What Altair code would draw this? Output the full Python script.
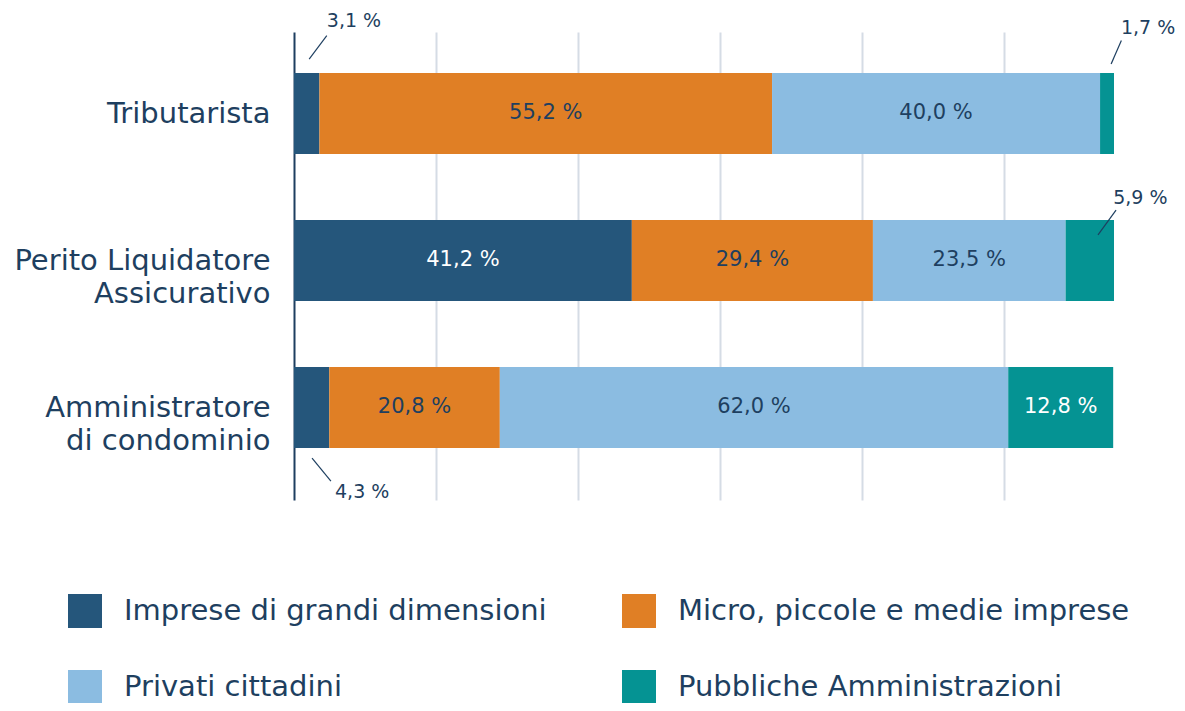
import altair as alt
import pandas as pd

categories = ["Tributarista", "Perito Liquidatore|Assicurativo", "Amministratore|di condominio"]
series = ["Imprese di grandi dimensioni", "Micro, piccole e medie imprese",
          "Privati cittadini", "Pubbliche Amministrazioni"]
grandi = [3.1, 41.2, 4.3]
micro = [55.2, 29.4, 20.8]
privati = [40.0, 23.5, 62.0]
pubbliche = [1.7, 5.9, 12.8]
grid_values = [17.32, 34.63, 51.95, 69.27, 86.59]

colors = ["#25567B", "#E07F25", "#8BBCE1", "#059393"]
navy = "#1E3F60"
FONT = "DejaVu Sans"

BAR_H = 0.551          # bar thickness in category units
Y_DOMAIN = [-0.554, 2.630]

# outside-label annotation offsets: x in percent relative to segment middle,
# b = vertical position in bar-thickness units from the bar's top edge
outside = {
    (0, 0): dict(x1=0.3, b1=-0.17, x2=2.45, b2=-0.46, tx=2.45, tb=-0.64),
    (0, 3): dict(x1=0.5, b1=-0.11, x2=1.75, b2=-0.40, tx=1.7, tb=-0.56),
    (1, 3): dict(x1=1.0, b1=0.185, x2=3.2, b2=-0.12, tx=2.85, tb=-0.27),
    (2, 0): dict(x1=0.05, b1=1.125, x2=2.35, b2=1.41, tx=2.85, tb=1.55),
}

vals = [grandi, micro, privati, pubbliche]
rows = []
for i, cat in enumerate(categories):
    start = 0.0
    for j, s in enumerate(series):
        v = vals[j][i]
        rows.append(dict(cat=cat, idx=i, series=s, v=v, x0=start, x1=start + v,
                         mid=start + v / 2, order=j,
                         ytop=i - BAR_H / 2, ybot=i + BAR_H / 2,
                         label=f"{v:.1f}".replace(".", ",") + " %",
                         ci=i, si=j))
        start += v
df = pd.DataFrame(rows)

cat_arr = "[" + ",".join("'" + c + "'" for c in categories) + "]"
yscale = alt.Scale(domain=Y_DOMAIN, reverse=True, nice=False, zero=False)

bars = alt.Chart(df).mark_bar().encode(
    x=alt.X("x0:Q", scale=alt.Scale(domain=[0, 100], nice=False, zero=True),
            axis=alt.Axis(values=grid_values, grid=True, gridColor="#D5DCE5", gridWidth=2,
                          domain=False, ticks=False, labels=False, title=None)),
    x2="x1:Q",
    y=alt.Y("ytop:Q", scale=yscale,
            axis=alt.Axis(title=None, ticks=False, domain=True, domainColor=navy, domainWidth=2,
                          values=[0, 1, 2], labelFontSize=29, labelColor=navy, labelFont=FONT,
                          labelPadding=24, labelBaseline="middle", labelAlign="right",
                          labelExpr="split(" + cat_arr + "[datum.value], '|')",
                          labelLineHeight=33, labelLimit=400, grid=False)),
    y2="ybot:Q",
    color=alt.Color("series:N", sort=series,
                    scale=alt.Scale(domain=series, range=colors),
                    legend=alt.Legend(title=None, orient="none", legendX=-226, legendY=562,
                                      direction="horizontal",
                                      columns=2, columnPadding=75, rowPadding=42,
                                      symbolType="square", symbolSize=1156, symbolStrokeWidth=0,
                                      symbolOpacity=1, labelFontSize=29, labelColor=navy,
                                      labelFont=FONT, labelOffset=22, labelLimit=600)),
    order=alt.Order("order:Q"),
)

inside = df[df["v"] >= 10]
in_text = alt.Chart(inside).mark_text(fontSize=21, font=FONT, baseline="middle").encode(
    x="mid:Q",
    y=alt.Y("idx:Q", scale=yscale),
    text="label:N",
    color=alt.condition(alt.FieldOneOfPredicate(field="series", oneOf=[series[0], series[3]]),
                        alt.value("white"), alt.value(navy)),
)

layers = [bars, in_text]
for (ci, si), o in outside.items():
    r = df[(df.ci == ci) & (df.si == si)].copy()
    r["xa"] = r["mid"] + o["x1"]
    r["xb"] = r["mid"] + o["x2"]
    r["xt"] = r["mid"] + o["tx"]
    r["ya"] = r["ytop"] + o["b1"] * BAR_H
    r["yb"] = r["ytop"] + o["b2"] * BAR_H
    r["yt"] = r["ytop"] + o["tb"] * BAR_H
    layers.append(alt.Chart(r).mark_rule(color=navy, strokeWidth=1.2).encode(
        x="xa:Q", x2="xb:Q",
        y=alt.Y("ya:Q", scale=yscale), y2="yb:Q",
    ))
    layers.append(alt.Chart(r).mark_text(fontSize=19, font=FONT, align="left",
                                         baseline="middle", color=navy).encode(
        x="xt:Q",
        y=alt.Y("yt:Q", scale=yscale),
        text="label:N",
    ))

chart = alt.layer(*layers).properties(
    width=820, height=468,
    autosize=alt.AutoSizeParams(type="none"),
    padding={"left": 286, "top": 24, "right": 63, "bottom": 203},
).configure(font=FONT).configure_view(stroke=None)

chart.save("out.html", embed_options={"renderer": "svg", "actions": False})
